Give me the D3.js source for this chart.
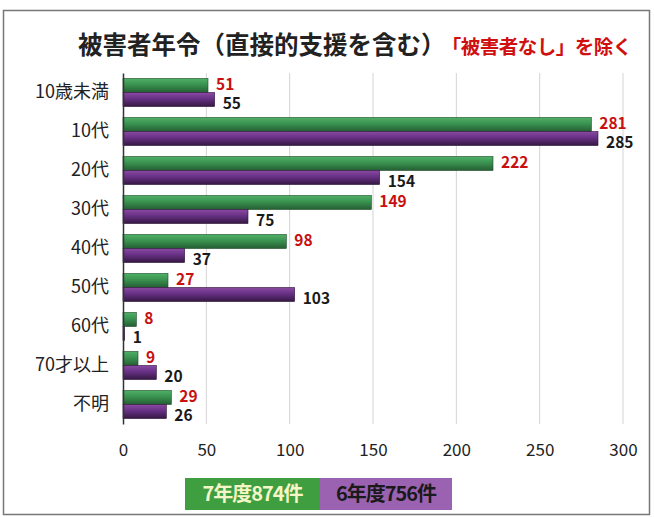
<!DOCTYPE html>
<html>
<head>
<meta charset="utf-8">
<script src="https://cdn.jsdelivr.net/npm/d3@7"></script>
<style>
  body { margin: 0; background: #fff; }
  text { font-family: "Noto Sans CJK JP", "Noto Sans", sans-serif; }
</style>
</head>
<body>
<div id="chart"></div>
<script>
// Chart size
const width = 654;
const height = 517;

// Data
const categories = ["10歳未満", "10代", "20代", "30代", "40代", "50代", "60代", "70才以上", "不明"];
const year7 = [51, 281, 222, 149, 98, 27, 8, 9, 29];   // 7年度
const year6 = [55, 285, 154, 75, 37, 103, 1, 20, 26];  // 6年度
const xTicks = [0, 50, 100, 150, 200, 250, 300];
const legendLabels = ["7年度874件", "6年度756件"];

const margin = { top: 73, right: 31, bottom: 93, left: 123 };

const svg = d3.select("#chart")
    .append("svg")
    .attr("width", width)
    .attr("height", height);

// gradients for the slightly shaded bars
const defs = svg.append("defs");
const gGreen = defs.append("linearGradient").attr("id", "gradGreen")
    .attr("x1", 0).attr("y1", 0).attr("x2", 0).attr("y2", 1);
gGreen.append("stop").attr("offset", "0%").attr("stop-color", "#4fb067");
gGreen.append("stop").attr("offset", "45%").attr("stop-color", "#3a9250");
gGreen.append("stop").attr("offset", "100%").attr("stop-color", "#245e33");
const gPurple = defs.append("linearGradient").attr("id", "gradPurple")
    .attr("x1", 0).attr("y1", 0).attr("x2", 0).attr("y2", 1);
gPurple.append("stop").attr("offset", "0%").attr("stop-color", "#8a4aa3");
gPurple.append("stop").attr("offset", "45%").attr("stop-color", "#673084");
gPurple.append("stop").attr("offset", "100%").attr("stop-color", "#351843");

// outer frame
svg.append("rect")
    .attr("x", 3.5).attr("y", 10.5)
    .attr("width", 646).attr("height", 504)
    .attr("fill", "none")
    .attr("stroke", "#777")
    .attr("stroke-width", 1.5);

// Title
const title = svg.append("text")
    .attr("x", 78).attr("y", 54)
    .attr("font-weight", "bold");
title.append("tspan")
    .attr("font-size", 24.5)
    .attr("fill", "#222")
    .text("被害者年令（直接的支援を含む）");
title.append("tspan")
    .attr("dx", 6)
    .attr("font-size", 19.5)
    .attr("fill", "#d01010")
    .attr("letter-spacing", -0.5)
    .text("「被害者なし」を除く");

// Scales
const x = d3.scaleLinear()
    .domain([0, 300])
    .range([margin.left, width - margin.right]);

const y = d3.scaleBand()
    .domain(categories)
    .range([margin.top, height - margin.bottom])
    .paddingInner(0.28)
    .paddingOuter(0.14);

const sub = d3.scaleBand()
    .domain(["y7", "y6"])
    .range([0, y.bandwidth()]);

// Gridlines
svg.append("g")
    .selectAll("line")
    .data(xTicks.slice(1))
    .join("line")
    .attr("x1", d => x(d)).attr("x2", d => x(d))
    .attr("y1", margin.top).attr("y2", height - margin.bottom)
    .attr("stroke", "#d4d4d4")
    .attr("stroke-width", 1);

// Bars
const rows = categories.map((c, i) => ({ cat: c, y7: year7[i], y6: year6[i] }));

const group = svg.append("g")
    .selectAll("g")
    .data(rows)
    .join("g")
    .attr("transform", d => `translate(0,${y(d.cat)})`);

group.append("rect")
    .attr("x", x(0))
    .attr("y", sub("y7"))
    .attr("width", d => x(d.y7) - x(0))
    .attr("height", sub.bandwidth())
    .attr("fill", "url(#gradGreen)")
    .attr("stroke", "#1d4a28")
    .attr("stroke-width", 0.6);

group.append("rect")
    .attr("x", x(0))
    .attr("y", sub("y6"))
    .attr("width", d => x(d.y6) - x(0))
    .attr("height", sub.bandwidth())
    .attr("fill", "url(#gradPurple)")
    .attr("stroke", "#2a1236")
    .attr("stroke-width", 0.6);

// Value labels
group.append("text")
    .attr("x", d => x(d.y7) + 8)
    .attr("y", sub("y7") + sub.bandwidth() / 2 - 1.5)
    .attr("dy", "0.36em")
    .attr("font-size", 15.5)
    .attr("font-weight", "bold")
    .attr("fill", "#c81010")
    .text(d => d.y7);

group.append("text")
    .attr("x", d => x(d.y6) + 8)
    .attr("y", sub("y6") + sub.bandwidth() / 2 + 4)
    .attr("dy", "0.36em")
    .attr("font-size", 15.5)
    .attr("font-weight", "bold")
    .attr("fill", "#1a1a1a")
    .text(d => d.y6);

// Y axis (category labels)
const yAxis = svg.append("g")
    .attr("transform", `translate(${margin.left},0)`)
    .call(d3.axisLeft(y).tickSize(0).tickPadding(14));
yAxis.select(".domain").attr("stroke", "#333").attr("stroke-width", 1.5);
yAxis.selectAll("text")
    .attr("font-size", 18)
    .attr("fill", "#222");

// X axis (tick labels only)
const xAxis = svg.append("g")
    .attr("transform", `translate(0,${height - margin.bottom})`)
    .call(d3.axisBottom(x).tickValues(xTicks).tickSize(0).tickPadding(20));
xAxis.select(".domain").remove();
xAxis.selectAll("text")
    .attr("font-size", 17)
    .attr("fill", "#222");

// Legend
const legendColors = ["#3f9e3f", "#9a62b0"];
const legendText = ["#f4f6c8", "#1a1a1a"];
const legendX = [185, 320];
const legendW = [135, 132];
const legend = svg.append("g")
    .selectAll("g")
    .data(legendLabels)
    .join("g");
legend.append("rect")
    .attr("x", (d, i) => legendX[i])
    .attr("y", 478)
    .attr("width", (d, i) => legendW[i])
    .attr("height", 32)
    .attr("fill", (d, i) => legendColors[i]);
legend.append("text")
    .attr("x", (d, i) => legendX[i] + legendW[i] / 2)
    .attr("y", 494)
    .attr("dy", "0.36em")
    .attr("text-anchor", "middle")
    .attr("font-size", 20)
    .attr("font-weight", "bold")
    .attr("letter-spacing", -1)
    .attr("fill", (d, i) => legendText[i])
    .text(d => d);
</script>
</body>
</html>
